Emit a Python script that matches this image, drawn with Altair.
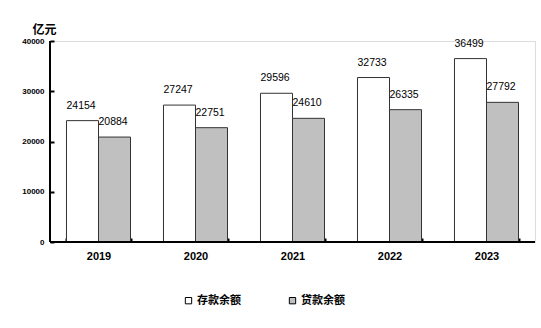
import altair as alt
import pandas as pd

years = ["2019", "2020", "2021", "2022", "2023"]
deposits = [24154, 27247, 29596, 32733, 36499]
loans = [20884, 22751, 24610, 26335, 27792]
series = ["存款余额", "贷款余额"]
colors = ["#ffffff", "#c0c0c0"]
y_ticks = [0, 10000, 20000, 30000, 40000]

rows = []
for i, yr in enumerate(years):
    rows.append({"年份": yr, "类别": series[0], "余额": deposits[i]})
    rows.append({"年份": yr, "类别": series[1], "余额": loans[i]})
df = pd.DataFrame(rows)

CJK = "Noto Sans CJK SC"
NUM = "Liberation Sans"

x_enc = alt.X(
    "年份:N",
    sort=years,
    scale=alt.Scale(paddingInner=0.34, paddingOuter=0.17),
    axis=alt.Axis(
        title=None, labelAngle=0, domain=False, tickBand="extent",
        tickSize=4, tickWidth=2, tickColor="#000", offset=-4,
        labelPadding=8, labelFont=NUM, labelFontSize=11, labelFontWeight="bold",
        labelColor="#000",
    ),
)
y_enc = alt.Y(
    "余额:Q",
    scale=alt.Scale(domain=[0, 40000], nice=False),
    axis=alt.Axis(
        values=y_ticks, format="d", domain=False, grid=False,
        tickSize=4, tickWidth=2, tickColor="#000", offset=-4,
        labelPadding=6, labelFont=NUM, labelFontSize=8, labelFontWeight="bold",
        labelColor="#000",
        title="亿元", titleAngle=0, titleX=-22, titleY=-5, titleAlign="left",
        titleBaseline="bottom", titleFont=CJK, titleFontSize=12, titleFontWeight="bold",
        titleColor="#000",
    ),
)

bars = alt.Chart(df).mark_bar(stroke="#333", strokeWidth=1).encode(
    x=x_enc,
    xOffset=alt.XOffset("类别:N", sort=series),
    y=y_enc,
    fill=alt.Fill(
        "类别:N", sort=series,
        scale=alt.Scale(domain=series, range=colors),
        legend=alt.Legend(
            title=None, orient="none", legendX=133, legendY=254,
            direction="horizontal", symbolType="square", symbolSize=40,
            symbolStrokeColor="#000", symbolStrokeWidth=1,
            labelFont=CJK, labelFontSize=11, labelFontWeight="bold",
            labelColor="#000", columnPadding=46, labelOffset=3,
        ),
    ),
)

# value labels sit left-aligned over each bar
labels = alt.Chart(df).mark_text(
    align="left", baseline="alphabetic", dx=-16, dy=-12,
    font=NUM, fontSize=10.5, color="#000"
).encode(
    x=alt.X("年份:N", sort=years),
    xOffset=alt.XOffset("类别:N", sort=series),
    y="余额:Q",
    text="余额:Q",
)

base_x = alt.Chart(pd.DataFrame({"v": [0]})).mark_rule(color="#000", strokeWidth=2).encode(
    y="v:Q", x=alt.value(0), x2=alt.value(485)
)
base_y = alt.Chart(pd.DataFrame({"v": [0]})).mark_rule(color="#000", strokeWidth=2).encode(
    x=alt.value(0), y=alt.value(0), y2=alt.value(201)
)

chart = alt.layer(bars, labels, base_x, base_y).properties(
    width=485, height=201,
    autosize=alt.AutoSizeParams(type="none"),
    padding={"left": 50, "top": 41, "right": 6, "bottom": 86},
).configure_view(stroke=None).configure(background="#ffffff")

chart.save("out.html", embed_options={"renderer": "svg", "actions": False})
